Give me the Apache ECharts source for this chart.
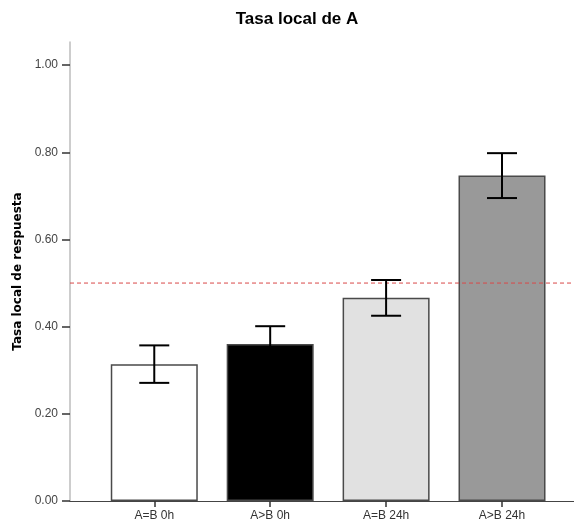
<!DOCTYPE html>
<html>
<head>
<meta charset="utf-8">
<script src="https://cdn.jsdelivr.net/npm/echarts@6/dist/echarts.min.js"></script>
<style>html,body{margin:0;padding:0;background:#fff}#c{width:574px;height:527px}</style>
</head>
<body>
<div id="c"></div>
<script>
const categories = ['A=B 0h', 'A>B 0h', 'A=B 24h', 'A>B 24h'];
const means = [0.314, 0.360, 0.466, 0.747];
const upper = [0.357, 0.401, 0.507, 0.798];
const lower = [0.271, 0.319, 0.425, 0.695];
const barColors = ['#ffffff', '#000000', '#e1e1e1', '#999999'];
const refValue = 0.5;
const yTicks = [0, 0.2, 0.4, 0.6, 0.8, 1.0];

const chart = echarts.init(document.getElementById('c'), null, {renderer: 'canvas'});
const idx = categories.map((_, i) => i);
chart.setOption({
  animation: false,
  title: {
    text: 'Tasa local de A', left: 292, textAlign: 'center', top: 6,
    textStyle: {fontFamily: 'Liberation Sans', fontWeight: 'bold', fontSize: 17, color: '#000'}
  },
  grid: {left: 70, right: 0, top: 42, bottom: 26},
  xAxis: {
    type: 'value', min: -0.727, max: 3.621,
    splitLine: {show: false},
    axisLine: {show: true, onZero: false, lineStyle: {color: '#444', width: 1}},
    axisTick: {show: true, customValues: idx, length: 6, lineStyle: {color: '#333', width: 1.5}},
    axisLabel: {
      customValues: idx, margin: 9,
      formatter: v => categories[Math.round(v)] || '',
      fontFamily: 'Liberation Sans', fontSize: 12, color: '#333'
    }
  },
  yAxis: {
    type: 'value', min: 0, max: 1.053,
    name: 'Tasa local de respuesta', nameLocation: 'middle', nameGap: 37,
    nameTextStyle: {fontFamily: 'DejaVu Sans', fontWeight: 'bold', fontSize: 12, color: '#000'},
    splitLine: {show: false},
    axisLine: {show: true, onZero: false, lineStyle: {color: '#bdbdbd', width: 1.5}},
    axisTick: {show: true, customValues: yTicks, length: 8, lineStyle: {color: '#333', width: 1.5}},
    axisLabel: {
      customValues: yTicks, margin: 12,
      formatter: v => v.toFixed(2),
      fontFamily: 'Liberation Sans', fontSize: 12, color: '#444'
    }
  },
  series: [
    {
      type: 'bar', barWidth: 87,
      data: means.map((m, i) => ({value: [i, m], itemStyle: {color: barColors[i]}})),
      itemStyle: {borderColor: '#4a4a4a', borderWidth: 1.5}
    },
    {
      type: 'line', symbol: 'none', silent: true, z: 4,
      data: [[-0.727, refValue], [3.621, refValue]],
      lineStyle: {color: '#d94848', type: [4, 3], width: 1}
    },
    {
      type: 'custom', z: 5,
      data: means.map((m, i) => [i, lower[i], upper[i]]),
      renderItem: function (params, api) {
        const x = api.value(0);
        const lo = api.coord([x, api.value(1)]);
        const hi = api.coord([x, api.value(2)]);
        const hw = 15;
        const st = {stroke: '#000', lineWidth: 2};
        return {
          type: 'group',
          children: [
            {type: 'line', shape: {x1: hi[0], y1: hi[1], x2: lo[0], y2: lo[1]}, style: st},
            {type: 'line', shape: {x1: hi[0] - hw, y1: hi[1], x2: hi[0] + hw, y2: hi[1]}, style: st},
            {type: 'line', shape: {x1: lo[0] - hw, y1: lo[1], x2: lo[0] + hw, y2: lo[1]}, style: st}
          ]
        };
      }
    }
  ]
});
</script>
</body>
</html>
